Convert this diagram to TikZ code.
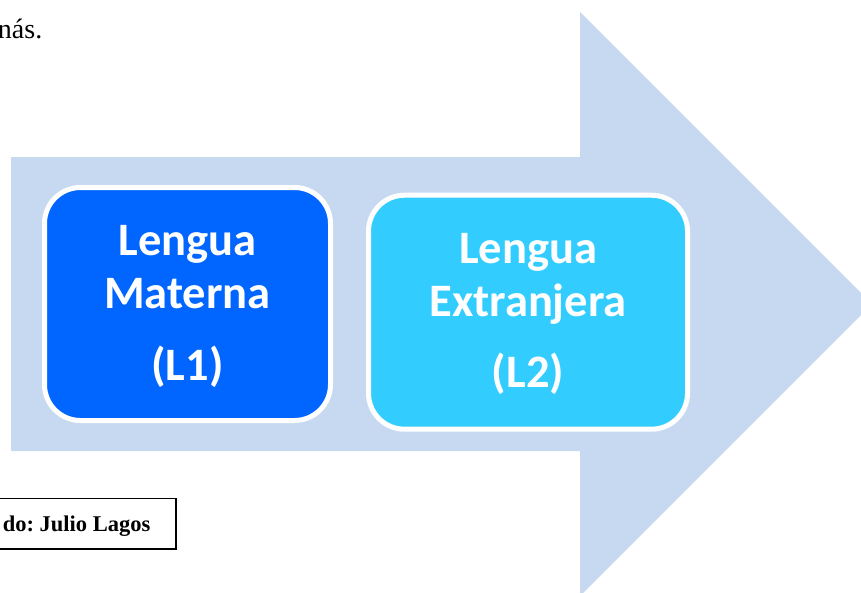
\documentclass[tikz,border=0pt]{standalone}
\usepackage{fontspec}
\setmainfont{Liberation Serif}
\newfontfamily\carlito{Carlito}
\definecolor{arrowblue}{HTML}{C6D9F1}
\definecolor{boxdark}{HTML}{0066FF}
\definecolor{boxlight}{HTML}{33CCFF}
\frenchspacing
\begin{document}
\begin{tikzpicture}[x=1pt,y=-1pt,
  boxstyle/.style={rounded corners=36pt, draw=white, line width=5pt, inner sep=0pt},
  boxtext/.style={anchor=base, inner sep=0pt, text=white, font=\carlito\bfseries\fontsize{46.5}{50}\selectfont},
  captext/.style={anchor=base east, inner sep=0pt, font=\bfseries\fontsize{22.5}{26}\selectfont}]
\useasboundingbox (0,0) rectangle (861,592);
\clip (0,0) rectangle (861,592);
% big arrow
\fill[arrowblue] (11,157) -- (580,157) -- (580,12) -- (872,304) -- (580,596) -- (580,451) -- (11,451) -- cycle;
% boxes
\node[boxstyle, fill=boxdark, minimum width=286pt, minimum height=233pt] (b1) at (187.5,304) {};
\node[boxstyle, fill=boxlight, minimum width=319pt, minimum height=234pt] (b2) at (528,312.2) {};
% box texts
\node[boxtext] (t1a) at (187.5,255) {Lengua};
\node[boxtext] (t1b) at (187.5,308) {Materna};
\node[boxtext] (t1c) at (187.5,380) {(L1)};
\node[boxtext] (t2a) at (528,263) {Lengua};
\node[boxtext] (t2b) at (528,316.7) {Extranjera};
\node[boxtext] (t2c) at (528,387) {(L2)};
% top text
\node[anchor=base east, inner sep=0pt, font=\fontsize{28}{32}\selectfont] (top) at (42.5,38) {nás.};
% caption box
\node[draw, line width=1.6pt, minimum width=220pt, minimum height=50.7pt, anchor=north east, inner sep=0pt] (cap) at (176.9,497.5) {};
\node[captext] (capt) at (150.5,531.7) {do: Julio Lagos};
\end{tikzpicture}
\end{document}
